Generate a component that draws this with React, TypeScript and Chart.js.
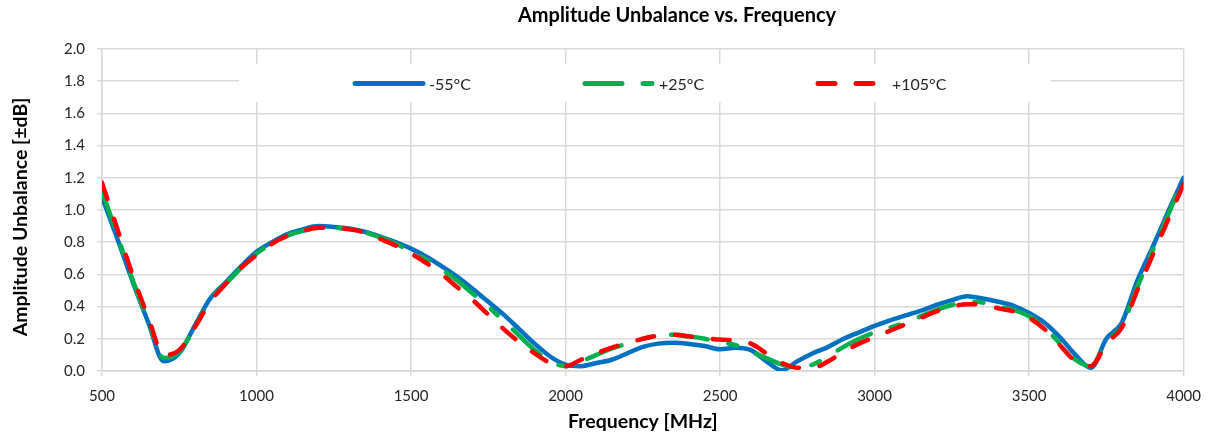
import React, { useEffect, useRef } from "react";
import { Chart, registerables } from "chart.js";

Chart.register(...registerables);

// ---------- data ----------
const frequencies = [
  500, 550, 600, 650, 700, 750, 800, 850, 900, 950,
  1000, 1050, 1100, 1150, 1200, 1250, 1300, 1350, 1400, 1450,
  1500, 1550, 1600, 1650, 1700, 1750, 1800, 1850, 1900, 1950,
  2000, 2050, 2100, 2150, 2200, 2250, 2300, 2350, 2400, 2450,
  2500, 2550, 2600, 2650, 2700, 2750, 2800, 2850, 2900, 2950,
  3000, 3050, 3100, 3150, 3200, 3250, 3300, 3350, 3400, 3450,
  3500, 3550, 3600, 3650, 3700, 3750, 3800, 3850, 3900, 3950,
  4000,
];

const minus55 = [
  1.08, 0.82, 0.55, 0.30, 0.06, 0.11, 0.28, 0.45, 0.55, 0.65,
  0.74, 0.80, 0.85, 0.88, 0.90, 0.895, 0.885, 0.865, 0.835, 0.80,
  0.76, 0.71, 0.65, 0.585, 0.51, 0.43, 0.35, 0.26, 0.17, 0.09,
  0.04, 0.03, 0.05, 0.07, 0.11, 0.15, 0.17, 0.175, 0.168, 0.155,
  0.135, 0.145, 0.13, 0.06, 0.005, 0.06, 0.11, 0.15, 0.20, 0.24,
  0.28, 0.315, 0.345, 0.375, 0.41, 0.44, 0.465, 0.45, 0.43, 0.405,
  0.36, 0.30, 0.21, 0.10, 0.02, 0.20, 0.30, 0.56, 0.77, 0.99,
  1.20,
];

const plus25 = [
  1.12, 0.84, 0.56, 0.31, 0.08, 0.12, 0.27, 0.44, 0.54, 0.64,
  0.73, 0.79, 0.84, 0.87, 0.89, 0.89, 0.88, 0.86, 0.83, 0.79,
  0.745, 0.69, 0.63, 0.56, 0.48, 0.40, 0.31, 0.22, 0.13, 0.06,
  0.03, 0.06, 0.10, 0.14, 0.17, 0.20, 0.22, 0.225, 0.215, 0.20,
  0.18, 0.16, 0.12, 0.08, 0.04, 0.02, 0.04, 0.09, 0.15, 0.20,
  0.24, 0.27, 0.30, 0.34, 0.38, 0.41, 0.43, 0.425, 0.40, 0.38,
  0.34, 0.27, 0.17, 0.07, 0.03, 0.18, 0.28, 0.52, 0.75, 0.97,
  1.20,
];

const plus105 = [
  1.17, 0.88, 0.59, 0.33, 0.10, 0.13, 0.27, 0.43, 0.54, 0.64,
  0.72, 0.79, 0.84, 0.87, 0.89, 0.89, 0.88, 0.86, 0.82, 0.78,
  0.73, 0.67, 0.60, 0.52, 0.44, 0.35, 0.26, 0.18, 0.11, 0.05,
  0.03, 0.07, 0.11, 0.145, 0.175, 0.20, 0.22, 0.225, 0.215, 0.205,
  0.195, 0.19, 0.17, 0.11, 0.05, 0.02, 0.02, 0.06, 0.12, 0.17,
  0.21, 0.25, 0.29, 0.33, 0.37, 0.40, 0.415, 0.41, 0.39, 0.37,
  0.33, 0.26, 0.16, 0.06, 0.03, 0.17, 0.27, 0.50, 0.72, 0.94,
  1.16,
];

const seriesLabels = ["-55°C", "+25°C", "+105°C"];
const xTickValues = [500, 1000, 1500, 2000, 2500, 3000, 3500, 4000];
const yTickValues = [0, 0.2, 0.4, 0.6, 0.8, 1.0, 1.2, 1.4, 1.6, 1.8, 2.0];

const chartTitle = "Amplitude Unbalance vs. Frequency";
const xAxisTitle = "Frequency [MHz]";
const yAxisTitle = "Amplitude Unbalance [±dB]";

// ---------- layout / style ----------
const W = 1212;
const H = 440;
const FONT = "Lato, 'Open Sans', sans-serif";
const legendItemX = [355, 585, 818];
const legendSampleLen = 68;
const legendTextGap = 74;
const legendY = 83.5;
const legendBox = { x: 239, y: 64, w: 812, h: 38 };

const toPoints = (ys: number[]) => frequencies.map((f, i) => ({ x: f, y: ys[i] }));

const decorPlugin = {
  id: "decor",
  beforeDatasetsDraw(chart: any) {
    const ctx = chart.ctx as CanvasRenderingContext2D;
    ctx.save();
    ctx.fillStyle = "#ffffff";
    ctx.fillRect(legendBox.x, legendBox.y, legendBox.w, legendBox.h);
    chart.data.datasets.forEach((ds: any, i: number) => {
      const x0 = legendItemX[i];
      ctx.strokeStyle = ds.borderColor;
      ctx.lineWidth = ds.borderWidth + 0.5;
      ctx.lineCap = "round";
      ctx.setLineDash(ds.borderDash || []);
      ctx.beginPath();
      ctx.moveTo(x0, legendY);
      ctx.lineTo(x0 + legendSampleLen, legendY);
      ctx.stroke();
      ctx.setLineDash([]);
      ctx.fillStyle = "#262626";
      ctx.font = `16px ${FONT}`;
      ctx.textAlign = "left";
      ctx.textBaseline = "middle";
      ctx.fillText(ds.label, x0 + legendTextGap, legendY + 1);
    });
    ctx.restore();
  },
  afterDraw(chart: any) {
    const ctx = chart.ctx as CanvasRenderingContext2D;
    const area = chart.chartArea;
    ctx.save();
    ctx.fillStyle = "#000000";
    ctx.textAlign = "center";
    ctx.textBaseline = "middle";
    ctx.font = `bold 20px ${FONT}`;
    ctx.fillText(chartTitle, 677, 16);
    ctx.font = `bold 19.5px ${FONT}`;
    ctx.fillText(xAxisTitle, (area.left + area.right) / 2, 422);
    ctx.translate(21, 217);
    ctx.rotate(-Math.PI / 2);
    ctx.fillText(yAxisTitle, 0, 0);
    ctx.restore();
  },
};

export default function App() {
  const canvasRef = useRef<HTMLCanvasElement | null>(null);

  useEffect(() => {
    document.body.style.margin = "0";
    const canvas = canvasRef.current;
    if (!canvas) return;
    const chart = new Chart(canvas, {
      type: "line",
      data: {
        datasets: [
          {
            label: seriesLabels[0],
            data: toPoints(minus55),
            borderColor: "#0070C0",
            borderWidth: 4.5,
            borderCapStyle: "round",
            borderJoinStyle: "round",
            pointRadius: 0,
            cubicInterpolationMode: "monotone",
            order: 3,
          },
          {
            label: seriesLabels[1],
            data: toPoints(plus25),
            borderColor: "#00B050",
            borderWidth: 4.5,
            borderDash: [37, 21, 9, 21],
            borderCapStyle: "round",
            borderJoinStyle: "round",
            pointRadius: 0,
            cubicInterpolationMode: "monotone",
            order: 2,
          },
          {
            label: seriesLabels[2],
            data: toPoints(plus105),
            borderColor: "#FF0000",
            borderWidth: 4.5,
            borderDash: [17, 21],
            borderCapStyle: "round",
            borderJoinStyle: "round",
            pointRadius: 0,
            cubicInterpolationMode: "monotone",
            order: 1,
          },
        ],
      },
      options: {
        responsive: false,
        animation: false,
        layout: { padding: { left: 0, right: 26, top: 49, bottom: 0 } },
        plugins: {
          legend: { display: false },
          title: { display: false },
          tooltip: { enabled: false },
        },
        scales: {
          x: {
            type: "linear",
            min: 500,
            max: 4000,
            afterBuildTicks: (scale: any) => {
              scale.ticks = xTickValues.map((v) => ({ value: v }));
            },
            afterFit: (scale: any) => {
              scale.height = H - 371;
            },
            ticks: {
              color: "#262626",
              font: { family: FONT, size: 15 },
              padding: 11,
              maxRotation: 0,
              callback: (v: any) => String(v),
            },
            grid: { color: "#d9d9d9", lineWidth: 1.5, tickLength: 5 },
            border: { color: "#d9d9d9", width: 1.5 },
          },
          y: {
            type: "linear",
            min: 0,
            max: 2,
            afterBuildTicks: (scale: any) => {
              scale.ticks = yTickValues.map((v) => ({ value: v }));
            },
            afterFit: (scale: any) => {
              scale.width = 102;
            },
            ticks: {
              color: "#262626",
              font: { family: FONT, size: 15 },
              padding: 12,
              callback: (v: any) => Number(v).toFixed(1),
            },
            grid: { color: "#d9d9d9", lineWidth: 1.5, tickLength: 5 },
            border: { color: "#d9d9d9", width: 1.5 },
          },
        },
      },
      plugins: [decorPlugin],
    } as any);
    return () => chart.destroy();
  }, []);

  return (
    <div style={{ width: W, height: H, background: "#ffffff" }}>
      <canvas ref={canvasRef} width={W} height={H} style={{ display: "block", width: W, height: H }} />
    </div>
  );
}
